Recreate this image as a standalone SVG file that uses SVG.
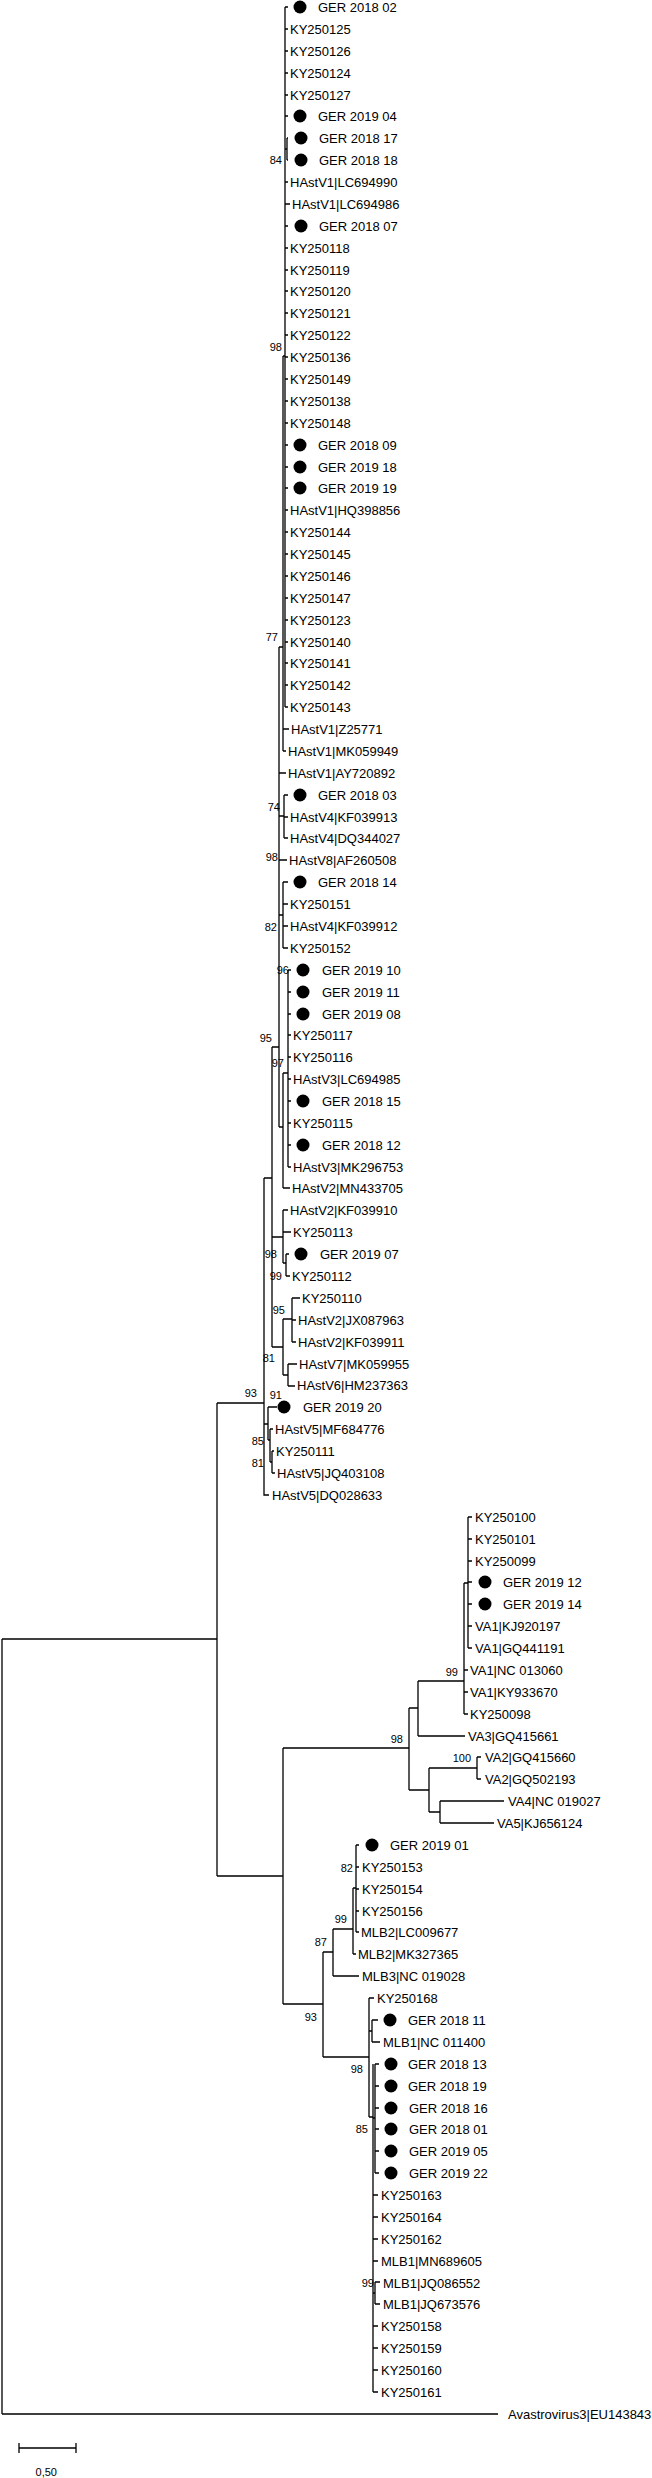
<svg xmlns="http://www.w3.org/2000/svg" width="652" height="2478" viewBox="0 0 652 2478">
<style>
.t{font-family:"Liberation Sans",Arial,sans-serif;font-size:13px;fill:#000}
.b{font-family:"Liberation Sans",Arial,sans-serif;font-size:11px;fill:#000;text-anchor:end}
.e{fill:none;stroke:#000;stroke-width:1.3}
</style>
<rect width="652" height="2478" fill="#fff"/>
<g id="connectors">
<path class="e" d="M2 1639V2414M2 1639H217M2 2414H498
M217 1403V1876M217 1403H264M217 1876H283
M264 1178V1495H269M264 1424H268M268 1407V1440M268 1407H277M268 1440H270M270 1429V1462M270 1429H273M270 1462H272M272 1451V1473M272 1451H274M272 1473H275
M264 1178H272M272 1047V1347M272 1047H279M279 647V1127
M279 647H283M283 356V751M283 356H285M285 7V707
M285 7H288M285 29H288M285 51H288M285 73H288M285 95H288M285 116H288M285 149H287M287 138V160M287 138H288M287 160H288M285 182H288M285 204H290M285 226H288M285 248H288M285 270H288M285 291H288M285 313H288M285 335H288M285 357H288M285 379H288M285 401H288M285 423H288M285 445H288M285 467H288M285 488H288M285 510H288M285 532H288M285 554H288M285 576H288M285 598H288M285 620H288M285 642H288M285 663H288M285 685H288M285 707H288
M283 729H289M283 751H286M279 773H286
M279 816H284M284 795V838M284 795H288M284 817H288M284 838H288M279 860H287
M279 915H283M283 882V948M283 882H288M283 904H288M283 926H288M283 948H288
M279 1127H283M283 1073V1188M283 1073H288M288 970V1167M288 970H291M288 992H291M288 1014H291M288 1035H291M288 1057H291M288 1079H291M288 1101H291M288 1123H291M288 1145H291M288 1167H291M283 1188H290
M272 1237H283M283 1210V1263M283 1210H288M283 1232H291M283 1263H286M286 1254V1276M286 1254H289M286 1276H290
M272 1347H283M283 1319V1375M283 1319H292M292 1298V1342M292 1298H300M292 1320H296M292 1342H296M283 1375H288M288 1364V1386M288 1364H297M288 1386H295
M283 1748V2004M283 1748H409M409 1708V1790M409 1708H418M418 1681V1736M418 1681H464M464 1583V1714M464 1583H468M468 1517V1648M468 1517H472M468 1539H472M468 1561H472M468 1582H472M468 1604H472M468 1626H472M468 1648H472M464 1670H468M464 1692H468M464 1714H468M418 1736H465
M409 1790H429M429 1768V1812M429 1768H477M477 1757V1779M477 1757H481M477 1779H481M429 1812H440M440 1801V1823M440 1801H504M440 1823H494
M283 2004H323M323 1952V2057M323 1952H333M333 1929V1976M333 1976H359M333 1929H353M353 1888V1954M353 1888H356M356 1845V1932M356 1845H359M356 1867H359M356 1889H359M356 1911H359M356 1932H359M353 1954H356
M323 2057H369M369 1998V2117M369 1998H374M369 2031H372M372 2020V2042M372 2020H378M372 2042H380
M369 2117H373M373 2064V2392M373 2118H375M375 2064V2173M375 2064H379M375 2086H379M375 2108H379M375 2129H379M375 2151H379M375 2173H379
M373 2195H378M373 2217H378M373 2239H378M373 2261H378M373 2293H375M375 2282V2304M375 2282H380M375 2304H380M373 2326H378M373 2348H378M373 2370H378M373 2392H378
M19 2448H76M19 2443V2453M76 2443V2453"/>
</g>
<g id="leaves">
<g id="n1"><circle cx="300" cy="7" r="6.5"/><text class="t" x="318" y="12">GER 2018 02</text></g>
<g id="n2"><text class="t" x="290" y="34">KY250125</text></g>
<g id="n3"><text class="t" x="290" y="56">KY250126</text></g>
<g id="n4"><text class="t" x="290" y="78">KY250124</text></g>
<g id="n5"><text class="t" x="290" y="100">KY250127</text></g>
<g id="n6"><circle cx="300" cy="116" r="6.5"/><text class="t" x="318" y="121">GER 2019 04</text></g>
<g id="n7"><circle cx="301" cy="138" r="6.5"/><text class="t" x="319" y="143">GER 2018 17</text></g>
<g id="n8"><circle cx="301" cy="160" r="6.5"/><text class="t" x="319" y="165">GER 2018 18</text></g>
<g id="n9"><text class="t" x="290" y="187">HAstV1|LC694990</text></g>
<g id="n10"><text class="t" x="292" y="209">HAstV1|LC694986</text></g>
<g id="n11"><circle cx="301" cy="226" r="6.5"/><text class="t" x="319" y="231">GER 2018 07</text></g>
<g id="n12"><text class="t" x="290" y="253">KY250118</text></g>
<g id="n13"><text class="t" x="290" y="275">KY250119</text></g>
<g id="n14"><text class="t" x="290" y="296">KY250120</text></g>
<g id="n15"><text class="t" x="290" y="318">KY250121</text></g>
<g id="n16"><text class="t" x="290" y="340">KY250122</text></g>
<g id="n17"><text class="t" x="290" y="362">KY250136</text></g>
<g id="n18"><text class="t" x="290" y="384">KY250149</text></g>
<g id="n19"><text class="t" x="290" y="406">KY250138</text></g>
<g id="n20"><text class="t" x="290" y="428">KY250148</text></g>
<g id="n21"><circle cx="300" cy="445" r="6.5"/><text class="t" x="318" y="450">GER 2018 09</text></g>
<g id="n22"><circle cx="300" cy="467" r="6.5"/><text class="t" x="318" y="472">GER 2019 18</text></g>
<g id="n23"><circle cx="300" cy="488" r="6.5"/><text class="t" x="318" y="493">GER 2019 19</text></g>
<g id="n24"><text class="t" x="290" y="515">HAstV1|HQ398856</text></g>
<g id="n25"><text class="t" x="290" y="537">KY250144</text></g>
<g id="n26"><text class="t" x="290" y="559">KY250145</text></g>
<g id="n27"><text class="t" x="290" y="581">KY250146</text></g>
<g id="n28"><text class="t" x="290" y="603">KY250147</text></g>
<g id="n29"><text class="t" x="290" y="625">KY250123</text></g>
<g id="n30"><text class="t" x="290" y="647">KY250140</text></g>
<g id="n31"><text class="t" x="290" y="668">KY250141</text></g>
<g id="n32"><text class="t" x="290" y="690">KY250142</text></g>
<g id="n33"><text class="t" x="290" y="712">KY250143</text></g>
<g id="n34"><text class="t" x="291" y="734">HAstV1|Z25771</text></g>
<g id="n35"><text class="t" x="288" y="756">HAstV1|MK059949</text></g>
<g id="n36"><text class="t" x="288" y="778">HAstV1|AY720892</text></g>
<g id="n37"><circle cx="300" cy="795" r="6.5"/><text class="t" x="318" y="800">GER 2018 03</text></g>
<g id="n38"><text class="t" x="290" y="822">HAstV4|KF039913</text></g>
<g id="n39"><text class="t" x="290" y="843">HAstV4|DQ344027</text></g>
<g id="n40"><text class="t" x="289" y="865">HAstV8|AF260508</text></g>
<g id="n41"><circle cx="300" cy="882" r="6.5"/><text class="t" x="318" y="887">GER 2018 14</text></g>
<g id="n42"><text class="t" x="290" y="909">KY250151</text></g>
<g id="n43"><text class="t" x="290" y="931">HAstV4|KF039912</text></g>
<g id="n44"><text class="t" x="290" y="953">KY250152</text></g>
<g id="n45"><circle cx="303" cy="970" r="6.5"/><text class="t" x="322" y="975">GER 2019 10</text></g>
<g id="n46"><circle cx="303" cy="992" r="6.5"/><text class="t" x="322" y="997">GER 2019 11</text></g>
<g id="n47"><circle cx="303" cy="1014" r="6.5"/><text class="t" x="322" y="1019">GER 2019 08</text></g>
<g id="n48"><text class="t" x="293" y="1040">KY250117</text></g>
<g id="n49"><text class="t" x="293" y="1062">KY250116</text></g>
<g id="n50"><text class="t" x="293" y="1084">HAstV3|LC694985</text></g>
<g id="n51"><circle cx="303" cy="1101" r="6.5"/><text class="t" x="322" y="1106">GER 2018 15</text></g>
<g id="n52"><text class="t" x="293" y="1128">KY250115</text></g>
<g id="n53"><circle cx="303" cy="1145" r="6.5"/><text class="t" x="322" y="1150">GER 2018 12</text></g>
<g id="n54"><text class="t" x="293" y="1172">HAstV3|MK296753</text></g>
<g id="n55"><text class="t" x="292" y="1193">HAstV2|MN433705</text></g>
<g id="n56"><text class="t" x="290" y="1215">HAstV2|KF039910</text></g>
<g id="n57"><text class="t" x="293" y="1237">KY250113</text></g>
<g id="n58"><circle cx="301" cy="1254" r="6.5"/><text class="t" x="320" y="1259">GER 2019 07</text></g>
<g id="n59"><text class="t" x="292" y="1281">KY250112</text></g>
<g id="n60"><text class="t" x="302" y="1303">KY250110</text></g>
<g id="n61"><text class="t" x="298" y="1325">HAstV2|JX087963</text></g>
<g id="n62"><text class="t" x="298" y="1347">HAstV2|KF039911</text></g>
<g id="n63"><text class="t" x="299" y="1369">HAstV7|MK059955</text></g>
<g id="n64"><text class="t" x="297" y="1390">HAstV6|HM237363</text></g>
<g id="n65"><circle cx="284" cy="1407" r="6.5"/><text class="t" x="303" y="1412">GER 2019 20</text></g>
<g id="n66"><text class="t" x="275" y="1434">HAstV5|MF684776</text></g>
<g id="n67"><text class="t" x="276" y="1456">KY250111</text></g>
<g id="n68"><text class="t" x="277" y="1478">HAstV5|JQ403108</text></g>
<g id="n69"><text class="t" x="272" y="1500">HAstV5|DQ028633</text></g>
<g id="n70"><text class="t" x="475" y="1522">KY250100</text></g>
<g id="n71"><text class="t" x="475" y="1544">KY250101</text></g>
<g id="n72"><text class="t" x="475" y="1566">KY250099</text></g>
<g id="n73"><circle cx="485" cy="1582" r="6.5"/><text class="t" x="503" y="1587">GER 2019 12</text></g>
<g id="n74"><circle cx="485" cy="1604" r="6.5"/><text class="t" x="503" y="1609">GER 2019 14</text></g>
<g id="n75"><text class="t" x="475" y="1631">VA1|KJ920197</text></g>
<g id="n76"><text class="t" x="475" y="1653">VA1|GQ441191</text></g>
<g id="n77"><text class="t" x="470" y="1675">VA1|NC 013060</text></g>
<g id="n78"><text class="t" x="470" y="1697">VA1|KY933670</text></g>
<g id="n79"><text class="t" x="470" y="1719">KY250098</text></g>
<g id="n80"><text class="t" x="468" y="1741">VA3|GQ415661</text></g>
<g id="n81"><text class="t" x="485" y="1762">VA2|GQ415660</text></g>
<g id="n82"><text class="t" x="485" y="1784">VA2|GQ502193</text></g>
<g id="n83"><text class="t" x="508" y="1806">VA4|NC 019027</text></g>
<g id="n84"><text class="t" x="497" y="1828">VA5|KJ656124</text></g>
<g id="n85"><circle cx="372" cy="1845" r="6.5"/><text class="t" x="390" y="1850">GER 2019 01</text></g>
<g id="n86"><text class="t" x="362" y="1872">KY250153</text></g>
<g id="n87"><text class="t" x="362" y="1894">KY250154</text></g>
<g id="n88"><text class="t" x="362" y="1916">KY250156</text></g>
<g id="n89"><text class="t" x="361" y="1937">MLB2|LC009677</text></g>
<g id="n90"><text class="t" x="358" y="1959">MLB2|MK327365</text></g>
<g id="n91"><text class="t" x="362" y="1981">MLB3|NC 019028</text></g>
<g id="n92"><text class="t" x="377" y="2003">KY250168</text></g>
<g id="n93"><circle cx="390" cy="2020" r="6.5"/><text class="t" x="408" y="2025">GER 2018 11</text></g>
<g id="n94"><text class="t" x="383" y="2047">MLB1|NC 011400</text></g>
<g id="n95"><circle cx="391" cy="2064" r="6.5"/><text class="t" x="408" y="2069">GER 2018 13</text></g>
<g id="n96"><circle cx="391" cy="2086" r="6.5"/><text class="t" x="408" y="2091">GER 2018 19</text></g>
<g id="n97"><circle cx="391" cy="2108" r="6.5"/><text class="t" x="409" y="2113">GER 2018 16</text></g>
<g id="n98"><circle cx="391" cy="2129" r="6.5"/><text class="t" x="409" y="2134">GER 2018 01</text></g>
<g id="n99"><circle cx="391" cy="2151" r="6.5"/><text class="t" x="409" y="2156">GER 2019 05</text></g>
<g id="n100"><circle cx="391" cy="2173" r="6.5"/><text class="t" x="409" y="2178">GER 2019 22</text></g>
<g id="n101"><text class="t" x="381" y="2200">KY250163</text></g>
<g id="n102"><text class="t" x="381" y="2222">KY250164</text></g>
<g id="n103"><text class="t" x="381" y="2244">KY250162</text></g>
<g id="n104"><text class="t" x="381" y="2266">MLB1|MN689605</text></g>
<g id="n105"><text class="t" x="383" y="2288">MLB1|JQ086552</text></g>
<g id="n106"><text class="t" x="383" y="2309">MLB1|JQ673576</text></g>
<g id="n107"><text class="t" x="381" y="2331">KY250158</text></g>
<g id="n108"><text class="t" x="381" y="2353">KY250159</text></g>
<g id="n109"><text class="t" x="381" y="2375">KY250160</text></g>
<g id="n110"><text class="t" x="381" y="2397">KY250161</text></g>
<g id="n111"><text class="t" x="508" y="2419">Avastrovirus3|EU143843</text></g>
</g>
<g id="bootstrap">
<text class="b" x="282" y="164">84</text>
<text class="b" x="282" y="351">98</text>
<text class="b" x="278" y="641">77</text>
<text class="b" x="280" y="811">74</text>
<text class="b" x="278" y="861">98</text>
<text class="b" x="277" y="931">82</text>
<text class="b" x="289" y="974">96</text>
<text class="b" x="272" y="1042">95</text>
<text class="b" x="284" y="1067">97</text>
<text class="b" x="277" y="1258">98</text>
<text class="b" x="282" y="1280">99</text>
<text class="b" x="285" y="1314">95</text>
<text class="b" x="275" y="1362">81</text>
<text class="b" x="257" y="1397">93</text>
<text class="b" x="282" y="1399">91</text>
<text class="b" x="264" y="1445">85</text>
<text class="b" x="264" y="1467">81</text>
<text class="b" x="458" y="1676">99</text>
<text class="b" x="403" y="1743">98</text>
<text class="b" x="471" y="1762">100</text>
<text class="b" x="353" y="1872">82</text>
<text class="b" x="347" y="1923">99</text>
<text class="b" x="327" y="1946">87</text>
<text class="b" x="317" y="2021">93</text>
<text class="b" x="363" y="2073">98</text>
<text class="b" x="368" y="2133">85</text>
<text class="b" x="374" y="2287">99</text>
</g>
<g id="scale"><text class="b" x="57" y="2476">0,50</text></g>
</svg>
